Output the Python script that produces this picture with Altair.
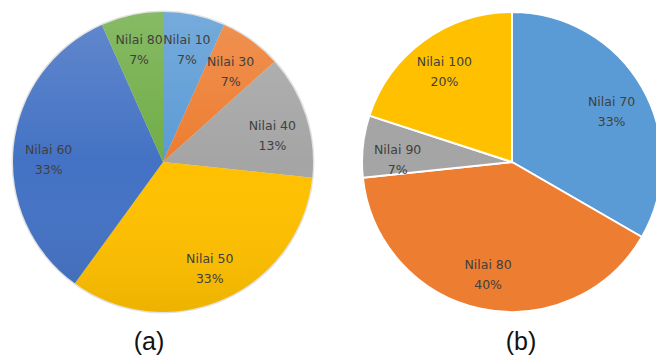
import altair as alt
import pandas as pd

# ---- data ----
a_labels = ["Nilai 10", "Nilai 30", "Nilai 40", "Nilai 50", "Nilai 60", "Nilai 80"]
a_counts = [1, 1, 2, 5, 5, 1]
a_pct = ["7%", "7%", "13%", "33%", "33%", "7%"]

b_labels = ["Nilai 70", "Nilai 80", "Nilai 90", "Nilai 100"]
b_counts = [5, 6, 1, 3]
b_pct = ["33%", "40%", "7%", "20%"]

captions = ["(a)", "(b)"]

a_colors = ["#5B9BD5", "#ED7D31", "#A5A5A5", "#FFC000", "#4472C4", "#70AD47"]
b_colors = ["#5B9BD5", "#ED7D31", "#A5A5A5", "#FFC000"]

df_a = pd.DataFrame({
    "label": a_labels,
    "count": a_counts,
    "idx": list(range(len(a_labels))),
    "txt": [f"{l}\n{p}" for l, p in zip(a_labels, a_pct)],
})
df_b = pd.DataFrame({
    "label": b_labels,
    "count": b_counts,
    "idx": list(range(len(b_labels))),
    "txt": [f"{l}\n{p}" for l, p in zip(b_labels, b_pct)],
})

AX, AY = 163, 162
BX, BY = 512, 162
R = 150
LR = 115

theta = alt.Theta("count:Q", stack=True, scale=alt.Scale(domain=[0, 15]))
order = alt.Order("idx:Q", sort="ascending")

halo_a = alt.Chart(pd.DataFrame({"k": [0]})).mark_arc(
    theta=0, theta2=6.28319, radius=151.5, fill="#d6d6d6", opacity=0.7
).encode(x=alt.value(AX), y=alt.value(AY))

pie_a = alt.Chart(df_a).mark_arc(radius=R, strokeWidth=0).encode(
    theta=theta,
    order=order,
    color=alt.Color("label:N", scale=alt.Scale(domain=a_labels, range=a_colors), legend=None),
    x=alt.value(AX), y=alt.value(AY),
)

shade_a = alt.Chart(pd.DataFrame({"k": [0]})).mark_arc(
    theta=0, theta2=6.28319, radius=R,
    fill=alt.Gradient(
        gradient="linear", x1=0, y1=0, x2=0, y2=1,
        stops=[
            alt.GradientStop(offset=0, color="rgba(255,255,255,0.16)"),
            alt.GradientStop(offset=0.5, color="rgba(255,255,255,0)"),
            alt.GradientStop(offset=1, color="rgba(0,0,0,0.07)"),
        ],
    ),
).encode(x=alt.value(AX), y=alt.value(AY))

text_props = dict(font="DejaVu Sans", fontSize=12.5, color="#404040",
                  lineBreak="\n", lineHeight=20, align="center", baseline="middle")


def labels(df, cx, cy):
    return alt.Chart(df).transform_joinaggregate(
        total="sum(count)"
    ).transform_window(
        cum="sum(count)", sort=[alt.SortField("idx")], frame=[None, 0]
    ).transform_calculate(
        mid="(datum.cum - datum.count/2) / datum.total * 2 * PI",
    ).transform_calculate(
        px=f"{cx} + {LR} * sin(datum.mid)",
        py=f"{cy} - {LR} * cos(datum.mid) - 10 * pow(cos(datum.mid), 2)",
    ).mark_text(**text_props).encode(
        x=alt.X("px:Q", scale=None, axis=None),
        y=alt.Y("py:Q", scale=None, axis=None),
        text="txt:N",
    )


lab_a = labels(df_a, AX, AY)

pie_b = alt.Chart(df_b).mark_arc(radius=R, stroke="white", strokeWidth=2).encode(
    theta=theta,
    order=order,
    color=alt.Color("label:N", scale=alt.Scale(domain=b_labels, range=b_colors), legend=None),
    x=alt.value(BX), y=alt.value(BY),
)

lab_b = labels(df_b, BX, BY)

cap_props = dict(font="Liberation Sans", fontSize=25, color="#111111",
                 align="center", baseline="alphabetic")
cap_a = alt.Chart(pd.DataFrame({"c": [captions[0]]})).mark_text(**cap_props).encode(
    text="c:N", x=alt.value(149), y=alt.value(350))
cap_b = alt.Chart(pd.DataFrame({"c": [captions[1]]})).mark_text(**cap_props).encode(
    text="c:N", x=alt.value(521), y=alt.value(350))

chart = alt.layer(
    halo_a, pie_a, shade_a, lab_a, pie_b, lab_b, cap_a, cap_b
).resolve_scale(
    color="independent"
).properties(
    width=656, height=356, autosize=alt.AutoSizeParams(type="none"), padding=0,
    background="white",
).configure_view(stroke=None)

chart.save("out.html", embed_options={"renderer": "svg", "actions": False})
